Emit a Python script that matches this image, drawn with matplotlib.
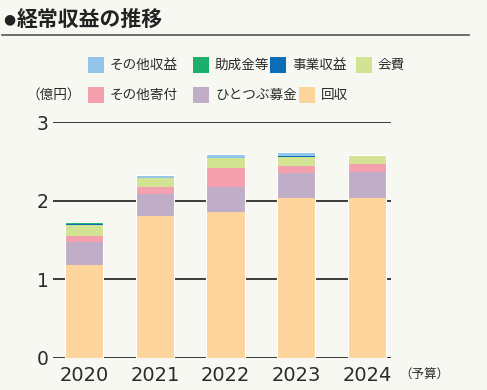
import matplotlib
matplotlib.use("Agg")
import matplotlib.pyplot as plt
from matplotlib.patches import Rectangle, Circle
import numpy as np

plt.rcParams['font.family'] = ['Noto Sans CJK JP', 'DejaVu Sans']

years = ["2020", "2021", "2022", "2023", "2024"]
series_names = ["回収", "ひとつぶ募金", "その他寄付", "会費", "事業収益", "助成金等", "その他収益"]
kaishu      = [1.18, 1.80, 1.86, 2.03, 2.04]
hitotsubu   = [0.29, 0.29, 0.318, 0.318, 0.33]
sonota_kifu = [0.08, 0.08, 0.242, 0.097, 0.093]
kaihi       = [0.14, 0.123, 0.124, 0.11, 0.12]
jigyo       = [0.015, 0.0, 0.0, 0.013, 0.0]
josei       = [0.01, 0.0, 0.0, 0.0, 0.0]
sonota_shueki = [0.01, 0.04, 0.05, 0.05, 0.0]
yticks = [0, 1, 2, 3]

colors = {
    "回収": "#fdd59c",
    "ひとつぶ募金": "#c0aec8",
    "その他寄付": "#f4a0ae",
    "会費": "#d3e394",
    "事業収益": "#0b6cb7",
    "助成金等": "#1aaf6a",
    "その他収益": "#92c5ea",
}
values = [kaishu, hitotsubu, sonota_kifu, kaihi, jigyo, josei, sonota_shueki]

bg = "#f8f8f3"
fig = plt.figure(figsize=(4.87, 3.90), dpi=100, facecolor=bg)
W, H = 487, 390
ax = fig.add_axes([53 / W, 1 - 357.7 / H, (391 - 53) / W, (357.7 - 122.3) / H])
ax.set_facecolor(bg)

x = np.arange(len(years))
bottom = np.zeros(len(years))
for name, vals in zip(series_names, values):
    v = np.array(vals)
    ax.bar(x, v, bottom=bottom, width=0.54, color=colors[name],
           edgecolor="none", zorder=2)
    bottom += v
for xi, tot in zip(x, bottom):
    ax.add_patch(Rectangle((xi - 0.27, 0), 0.54, tot, fill=False,
                           edgecolor="white", lw=0.8, zorder=3))

for t in yticks:
    ax.axhline(t, color="#3a3a3a", lw=1.4, zorder=1)

ax.set_xlim(-0.44, 4.34)
ax.set_ylim(0, 3)
ax.set_yticks(yticks)
ax.set_yticklabels([str(t) for t in yticks], fontsize=13.5, color="#2a2a2a",
                   family="DejaVu Sans")
ax.set_xticks(x)
ax.set_xticklabels(years, fontsize=14, color="#2a2a2a", family="DejaVu Sans")
ax.tick_params(axis="y", length=0, pad=3)
ax.tick_params(axis="x", length=0, pad=6)
for s in ax.spines.values():
    s.set_visible(False)

fig.text(399 / W, 1 - 375 / H, "（予算）", fontsize=9, color="#2a2a2a",
         ha="left", va="center")

# Title
fig.text(3 / W, 1 - 19 / H, "●", fontsize=10, color="#222222",
         ha="left", va="center", family="DejaVu Sans")
fig.text(17 / W, 1 - 19 / H, "経常収益の推移", fontsize=15, fontweight="bold",
         color="#222222", ha="left", va="center")
fig.add_artist(plt.Line2D([2 / W, 469 / W], [1 - 35 / H, 1 - 35 / H],
                          transform=fig.transFigure, color="#555555", lw=1.2))

def legend_item(xs, y, name):
    fig.add_artist(Rectangle((xs / W, 1 - (y + 8) / H), 16 / W, 16 / H,
                             transform=fig.transFigure,
                             facecolor=colors[name], edgecolor="none"))
    fig.text((xs + 22) / W, 1 - y / H, name, fontsize=9.8, color="#2a2a2a",
             ha="left", va="center")

legend_item(88, 65, "その他収益")
legend_item(193, 65, "助成金等")
legend_item(270, 65, "事業収益")
legend_item(356, 65, "会費")
legend_item(88, 95, "その他寄付")
legend_item(193, 95, "ひとつぶ募金")
legend_item(299, 95, "回収")
fig.text(27 / W, 1 - 95 / H, "（億円）", fontsize=9.8, color="#2a2a2a",
         ha="left", va="center")

fig.savefig("out.png", dpi=100, facecolor=bg)
